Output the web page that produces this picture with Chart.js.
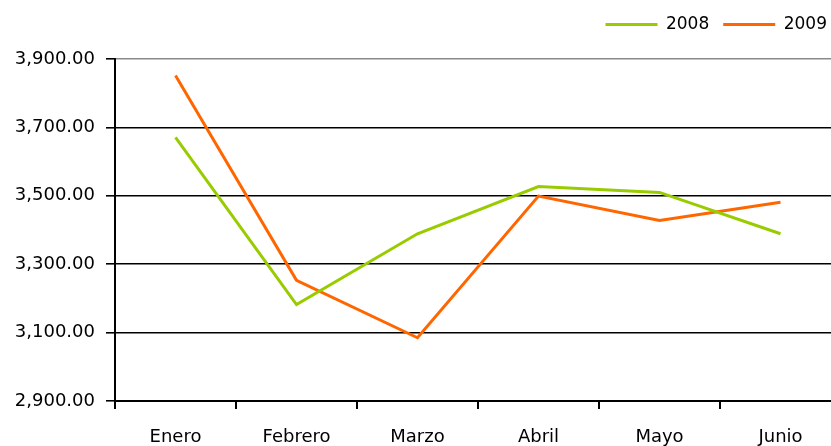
<!DOCTYPE html>
<html>
<head>
<meta charset="utf-8">
<script src="https://cdn.jsdelivr.net/npm/chart.js@4/dist/chart.umd.min.js"></script>
<style>
  html, body { margin: 0; padding: 0; background: #fff; overflow: hidden; width: 831px; height: 446px; }
  #wrap { position: absolute; left: 0; top: 0; width: 841px; height: 446px; }
</style>
</head>
<body>
<div id="wrap"><canvas id="c" width="841" height="446"></canvas></div>
<script>
const categories = ['Enero', 'Febrero', 'Marzo', 'Abril', 'Mayo', 'Junio'];
const series2008 = [3671, 3182, 3389, 3527, 3510, 3389];
const series2009 = [3852, 3253, 3085, 3499, 3428, 3481];
const yMin = 2900, yMax = 3900, yStep = 200;

const FONT = 'DejaVu Sans';

const legendMargin = {
  id: 'legendMargin',
  afterInit(chart) {
    const lg = chart.legend;
    if (!lg) return;
    const orig = lg.fit.bind(lg);
    lg.fit = function () { orig(); this.height += 16; };
  }
};

new Chart(document.getElementById('c'), {
  type: 'line',
  data: {
    labels: categories,
    datasets: [
      { label: '2008', data: series2008, borderColor: '#99CC00', backgroundColor: '#99CC00',
        borderWidth: 3, pointRadius: 0, tension: 0, pointStyle: 'line' },
      { label: '2009', data: series2009, borderColor: '#FF6600', backgroundColor: '#FF6600',
        borderWidth: 3, pointRadius: 0, tension: 0, pointStyle: 'line' }
    ]
  },
  plugins: [legendMargin],
  options: {
    responsive: false,
    animation: false,
    layout: { padding: { top: 2, left: 0, right: 0, bottom: 0 } },
    plugins: {
      legend: {
        position: 'top', align: 'end',
        labels: { usePointStyle: true, pointStyleWidth: 52, padding: 14,
          color: '#000', font: { family: FONT, size: 17 } }
      },
      tooltip: { enabled: false }
    },
    scales: {
      x: {
        offset: true,
        afterFit: s => { s.height = 45; },
        grid: { offset: true, drawOnChartArea: false, drawTicks: true, tickLength: 8,
          color: '#000', tickColor: '#000', lineWidth: 2 },
        border: { display: true, color: '#000', width: 2 },
        ticks: { color: '#000', padding: 18, font: { family: FONT, size: 18 }, maxRotation: 0, autoSkip: false }
      },
      y: {
        min: yMin, max: yMax,
        afterFit: s => { s.width = 115; },
        grid: { color: ctx => (ctx.tick && ctx.tick.value === yMax) ? '#8a8a8a' : '#000',
          tickColor: '#000', lineWidth: 1.6, tickLength: 9 },
        border: { display: true, color: '#000', width: 2 },
        ticks: { stepSize: yStep, autoSkip: false, color: '#000', padding: 11,
          font: { family: FONT, size: 18 },
          callback: v => Number(v).toLocaleString('en-US', { minimumFractionDigits: 2, maximumFractionDigits: 2 }) }
      }
    }
  }
});
</script>
</body>
</html>
